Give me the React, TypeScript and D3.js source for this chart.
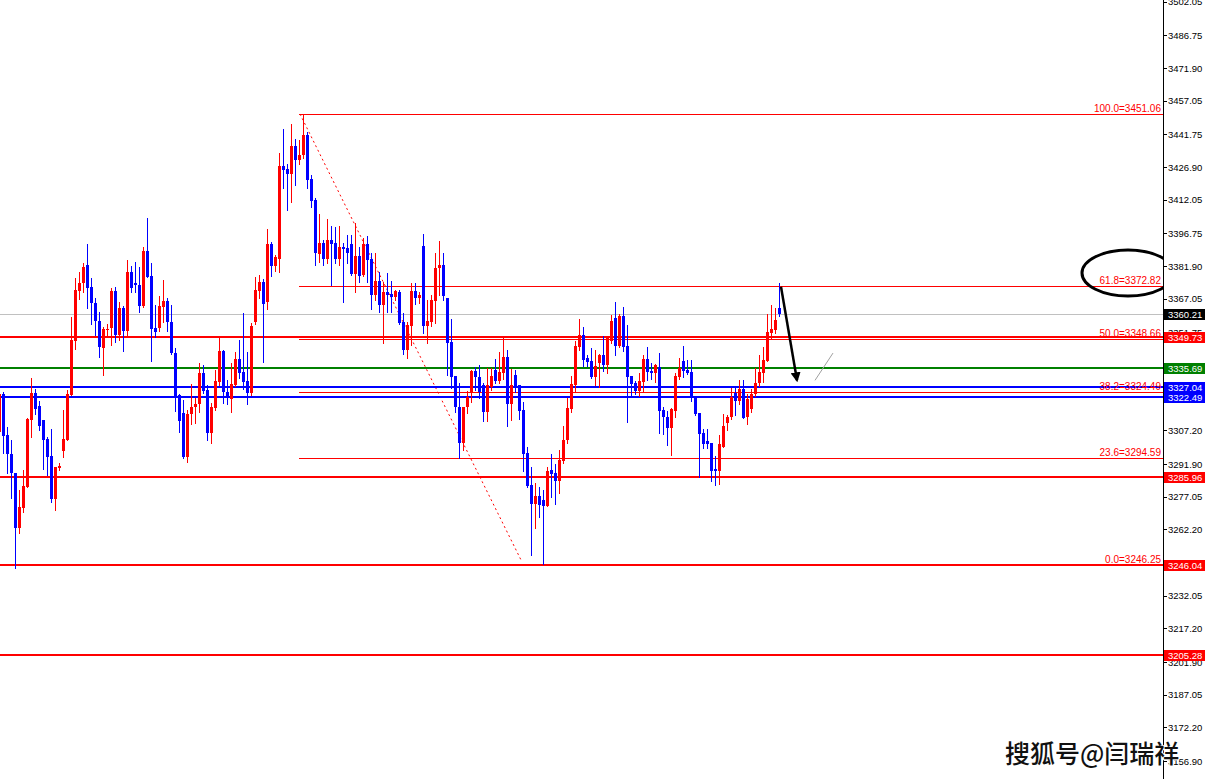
import React from "react";
import * as d3 from "d3";

const openP = [
3306.5,3323.8,3305.2,3296.5,3287.9,3262.9,3272.0,3281.5,3312.0,3324.3,
3318.4,3312.0,3303.4,3295.6,3276.1,3290.2,3297.9,3302.9,3323.4,3347.9,
3370.6,3374.3,3382.5,3372.5,3365.2,3357.0,3344.7,3352.9,3353.8,3370.6,
3350.6,3362.9,3352.4,3379.3,3374.3,3373.4,3363.8,3388.8,3377.4,3353.8,
3353.8,3363.4,3366.1,3356.5,3342.4,3323.4,3315.2,3295.2,3314.7,3317.9,
3319.3,3333.4,3325.6,3306.1,3317.4,3329.3,3343.4,3324.7,3321.5,3327.9,
3339.7,3333.8,3329.7,3324.3,3356.5,3370.6,3374.7,3365.6,3392.0,3382.0,
3385.2,3427.5,3426.1,3423.8,3436.5,3430.2,3432.4,3441.5,3421.5,3412.0,
3387.4,3392.4,3385.2,3393.8,3392.4,3385.2,3390.6,3390.2,3392.0,3378.4,
3386.5,3377.9,3392.0,3385.2,3368.8,3375.2,3364.3,3370.2,3369.3,3367.9,
3370.2,3356.5,3343.8,3354.7,3370.6,3367.5,3391.1,3354.7,3356.5,3366.1,
3381.1,3382.5,3367.5,3347.4,3332.0,3317.9,3301.5,3317.9,3324.3,3334.3,
3331.5,3327.9,3315.6,3327.0,3334.7,3329.7,3333.4,3340.6,3319.3,3332.5,
3327.9,3316.5,3297.0,3282.5,3273.8,3277.4,3275.6,3272.9,3289.3,3287.9,
3284.3,3293.4,3302.9,3317.0,3327.9,3345.2,3350.6,3340.2,3338.8,3331.5,
3337.9,3341.5,3337.0,3347.9,3358.4,3345.6,3359.3,3345.6,3332.0,3328.8,
3325.2,3329.3,3339.7,3334.3,3333.4,3336.1,3316.5,3313.4,3308.4,3316.1,
3331.5,3338.8,3334.7,3333.8,3322.5,3315.2,3306.1,3302.4,3301.5,3289.7,
3288.8,3299.7,3310.6,3313.4,3324.3,3320.6,3326.1,3313.4,3317.0,3323.8,
3328.8,3333.4,3338.8,3351.5,3352.9,3362.9
];
const closeP = [
3323.8,3304.7,3296.5,3287.9,3262.9,3272.5,3282.0,3312.5,3324.3,3317.0,
3309.3,3302.9,3295.2,3276.1,3290.6,3291.1,3303.4,3323.8,3348.4,3371.1,
3374.3,3381.5,3372.0,3365.2,3357.0,3345.2,3353.4,3353.4,3370.6,3350.6,
3362.9,3352.4,3379.3,3372.0,3373.4,3363.8,3388.8,3377.0,3353.4,3352.0,
3363.8,3366.1,3356.5,3342.4,3322.5,3311.5,3295.2,3314.7,3317.9,3319.3,
3333.4,3325.2,3306.1,3317.9,3329.7,3343.4,3324.7,3322.9,3328.4,3339.7,
3333.4,3329.3,3324.3,3354.7,3371.1,3374.7,3364.7,3392.0,3382.0,3386.1,
3427.5,3425.6,3423.8,3436.5,3430.2,3432.4,3441.5,3421.1,3411.5,3387.9,
3392.4,3385.2,3393.8,3392.0,3385.2,3390.6,3389.7,3387.9,3378.4,3386.5,
3377.4,3392.0,3384.7,3368.8,3375.2,3364.3,3370.2,3368.8,3367.9,3370.6,
3356.1,3343.8,3355.2,3370.6,3367.5,3368.8,3354.7,3357.0,3366.5,3381.1,
3382.5,3368.4,3347.0,3331.5,3317.9,3301.5,3317.9,3322.5,3334.3,3331.5,
3324.7,3315.6,3327.9,3332.0,3329.7,3333.8,3340.6,3319.3,3327.9,3327.0,
3316.1,3296.5,3282.0,3273.8,3277.4,3273.4,3272.9,3288.8,3287.4,3284.3,
3293.8,3302.9,3317.4,3328.4,3345.6,3350.6,3339.3,3338.4,3331.5,3336.6,
3341.5,3337.0,3349.7,3357.0,3345.6,3359.3,3345.2,3331.5,3328.4,3325.2,
3329.7,3339.7,3333.8,3333.4,3337.0,3316.1,3313.4,3308.4,3317.0,3332.0,
3335.6,3334.3,3333.4,3322.0,3314.7,3305.6,3301.1,3301.1,3288.8,3288.8,
3301.1,3309.3,3313.4,3322.5,3320.6,3326.1,3312.9,3321.5,3323.8,3328.8,
3333.8,3339.3,3352.0,3353.4,3357.5,3360.21
];
const highP = [
3325.6,3324.7,3308.8,3302.9,3287.9,3280.2,3289.3,3312.9,3331.1,3326.1,
3320.6,3312.0,3304.3,3307.9,3290.6,3292.4,3316.5,3325.6,3358.8,3376.5,
3379.3,3383.4,3392.0,3376.5,3367.5,3361.1,3354.3,3355.6,3372.0,3372.5,
3365.6,3363.8,3384.7,3382.0,3383.8,3381.5,3390.6,3403.8,3383.4,3364.3,
3368.4,3375.6,3367.5,3364.3,3344.7,3323.8,3321.1,3316.5,3328.4,3322.0,
3337.9,3337.0,3327.9,3319.7,3334.7,3349.3,3343.8,3330.2,3337.9,3342.9,
3348.4,3360.6,3342.9,3356.1,3377.0,3377.9,3376.1,3398.8,3392.9,3387.0,
3433.4,3444.2,3428.4,3446.5,3439.7,3439.3,3451.1,3442.9,3423.4,3412.9,
3405.6,3393.8,3403.4,3400.2,3399.7,3400.2,3392.4,3396.1,3396.1,3401.5,
3390.6,3394.7,3395.6,3387.9,3387.9,3379.3,3374.7,3378.8,3375.2,3371.1,
3371.1,3360.6,3356.5,3374.3,3374.3,3370.2,3396.5,3366.5,3368.8,3387.9,
3393.4,3387.9,3367.5,3357.9,3332.0,3328.8,3317.9,3325.2,3334.7,3336.1,
3337.0,3328.8,3335.6,3335.6,3339.7,3342.9,3349.7,3343.8,3335.2,3334.7,
3327.9,3320.2,3299.7,3290.6,3283.4,3281.5,3280.2,3290.6,3296.5,3292.0,
3298.4,3309.3,3322.0,3332.0,3347.9,3357.9,3354.3,3341.5,3344.7,3343.8,
3341.9,3350.1,3349.7,3359.7,3365.6,3360.2,3363.4,3355.2,3332.0,3329.7,
3333.4,3341.5,3345.2,3337.9,3337.5,3342.4,3317.9,3316.1,3317.4,3333.4,
3340.2,3345.6,3339.3,3339.3,3322.5,3315.2,3307.9,3307.9,3301.5,3295.6,
3305.2,3314.7,3314.3,3326.5,3326.5,3330.2,3330.2,3323.8,3326.1,3335.6,
3341.5,3345.2,3360.2,3364.3,3362.9,3374.3
];
const lowP = [
3302.9,3297.0,3287.9,3276.5,3244.9,3260.6,3270.2,3281.5,3304.3,3314.7,
3307.5,3289.7,3287.0,3274.7,3271.1,3289.3,3295.2,3302.9,3323.4,3344.3,
3367.0,3370.2,3362.9,3355.6,3350.6,3340.6,3332.5,3350.6,3346.1,3347.4,
3348.4,3343.4,3350.6,3370.2,3370.2,3361.1,3363.4,3377.0,3338.8,3349.7,
3352.4,3356.5,3352.4,3341.9,3316.1,3306.5,3294.7,3292.9,3310.2,3310.6,
3315.6,3324.3,3302.9,3301.5,3316.5,3327.9,3319.7,3319.3,3315.6,3327.4,
3331.1,3326.1,3319.3,3323.4,3355.6,3367.5,3338.4,3362.4,3377.4,3379.7,
3379.3,3417.4,3407.5,3411.1,3418.8,3428.4,3431.1,3417.4,3408.8,3382.5,
3383.8,3382.5,3383.4,3373.4,3383.4,3382.5,3365.6,3383.4,3377.9,3370.2,
3374.7,3377.4,3374.7,3362.4,3366.5,3361.1,3347.0,3361.1,3361.1,3366.5,
3355.6,3341.9,3340.1,3346.1,3364.7,3365.2,3351.5,3347.0,3354.7,3356.1,
3368.8,3366.5,3332.5,3326.5,3315.6,3294.7,3298.4,3315.2,3320.2,3325.6,
3322.0,3311.5,3311.5,3325.6,3328.8,3328.8,3330.6,3309.3,3312.0,3324.7,
3312.4,3288.8,3281.5,3250.6,3262.9,3267.9,3246.5,3272.9,3277.0,3273.8,
3278.8,3292.4,3301.5,3315.6,3324.7,3343.8,3336.6,3336.6,3331.1,3327.9,
3327.0,3334.3,3333.4,3347.0,3341.5,3345.2,3343.4,3311.1,3322.5,3323.8,
3322.9,3325.2,3330.2,3330.6,3329.3,3306.1,3305.6,3300.6,3296.1,3313.4,
3330.6,3331.5,3332.9,3320.6,3314.3,3286.1,3299.3,3299.3,3284.3,3282.5,
3282.9,3299.7,3307.5,3312.4,3314.3,3319.3,3312.9,3310.2,3315.6,3322.9,
3327.4,3329.3,3338.8,3348.8,3351.5,3359.3
];

const tickValues = [3502.05,3486.75,3471.90,3457.05,3441.75,3426.90,3412.05,3396.75,3381.90,3367.05,3351.75,3336.90,3322.05,3307.20,3291.90,3277.05,3262.20,3246.90,3232.05,3217.20,3201.90,3187.05,3172.20,3156.90];

const levelValues = [3349.73, 3335.69, 3327.04, 3322.49, 3285.96, 3246.04, 3205.28];
const levelColors = ["#ff0000", "#008000", "#0000ff", "#0000ff", "#ff0000", "#ff0000", "#ff0000"];
const currentPrice = 3360.21;

const fibHigh = 3451.06;
const fibLow = 3246.25;
const fibPcts = ["100.0", "61.8", "50.0", "38.2", "23.6", "0.0"];
const fibValues = [3451.06, 3372.82, 3348.66, 3324.49, 3294.59, 3246.25];
const fibStartIdx = 75;
const fibEndIdx = 130.7;

const arrowFrom = { i: 195.5, p: 3372.5 };
const arrowTo = { i: 199.5, p: 3330.0 };
const thinFrom = { i: 204, p: 3330.0 };
const thinTo = { i: 208.5, p: 3342.4 };

const watermark = "搜狐号@闫瑞祥";

const W = 1205;
const H = 779;
const AXIS_X = 1163;

export default function App() {
  const x = d3.scaleLinear().domain([0, 195]).range([-1, 779]);
  const y = d3.scaleLinear().domain([3246.04, 3451.06]).range([565.04, 114]);
  const font = "'Liberation Sans', Arial, sans-serif";

  const candles = openP.map((o, i) => {
    const c = closeP[i];
    const h = highP[i];
    const l = lowP[i];
    const up = c >= o;
    const col = up ? "#ff0000" : "#0000ff";
    const cx = Math.round(x(i));
    const yTop = Math.round(y(Math.max(o, c)));
    const yBot = Math.round(y(Math.min(o, c)));
    return (
      <g key={i}>
        <line x1={cx + 0.5} x2={cx + 0.5} y1={Math.round(y(h))} y2={Math.round(y(l)) + 1} stroke={col} strokeWidth={1} />
        <rect x={cx - 1} y={yTop} width={3} height={Math.max(1, yBot - yTop)} fill={col} />
      </g>
    );
  });

  const fibX0 = Math.round(x(fibStartIdx));
  const boxYs = [currentPrice, ...levelValues].map((v) => y(v));
  const visibleTicks = tickValues.filter((v) => boxYs.every((b) => Math.abs(y(v) - b) > 4));

  return (
    <svg width={W} height={H} style={{ position: "fixed", left: 0, top: 0, background: "#fff" }} xmlns="http://www.w3.org/2000/svg">
      <rect x={0} y={0} width={W} height={H} fill="#ffffff" />
      <line x1={0} x2={AXIS_X} y1={Math.round(y(currentPrice)) + 0.5} y2={Math.round(y(currentPrice)) + 0.5} stroke="#c0c0c0" strokeWidth={1} />
      {fibValues.map((v, k) => (
        <line key={"f" + k} x1={fibX0} x2={AXIS_X} y1={Math.round(y(v)) + 0.5} y2={Math.round(y(v)) + 0.5} stroke="#ff0000" strokeWidth={1} />
      ))}
      <line x1={x(fibStartIdx) + 1} y1={y(fibHigh)} x2={x(fibEndIdx)} y2={y(fibLow) - 3} stroke="#ff0000" strokeWidth={1} strokeDasharray="2,3" />
      {levelValues.map((v, k) => (
        <line key={"l" + k} x1={0} x2={AXIS_X} y1={Math.round(y(v))} y2={Math.round(y(v))} stroke={levelColors[k]} strokeWidth={2} />
      ))}
      <g shapeRendering="crispEdges">{candles}</g>
      {fibValues.map((v, k) => (
        <text key={"ft" + k} x={AXIS_X - 2} y={Math.round(y(v)) - 2} textAnchor="end" fontFamily={font} fontSize={10} fill="#ff0000">
          {fibPcts[k] + "=" + v.toFixed(2)}
        </text>
      ))}
      <defs>
        <marker id="ah" viewBox="0 0 10 10" refX="8" refY="5" markerWidth="4" markerHeight="4" orient="auto">
          <path d="M0,0 L10,5 L0,10 z" fill="#000" />
        </marker>
      </defs>
      <line x1={x(arrowFrom.i)} y1={y(arrowFrom.p)} x2={x(arrowTo.i)} y2={y(arrowTo.p)} stroke="#000" strokeWidth={2.5} markerEnd="url(#ah)" />
      <line x1={x(thinFrom.i)} y1={y(thinFrom.p)} x2={x(thinTo.i)} y2={y(thinTo.p)} stroke="#a0a0a0" strokeWidth={1} />
      <ellipse cx={1128} cy={Math.round(y(fibValues[1])) - 13} rx={46} ry={23} fill="none" stroke="#000" strokeWidth={3} />
      <rect x={AXIS_X + 1} y={0} width={W - AXIS_X - 1} height={H} fill="#ffffff" />
      <line x1={AXIS_X + 0.5} x2={AXIS_X + 0.5} y1={0} y2={H} stroke="#000" strokeWidth={1} />
      {tickValues.map((v, k) => (
        <line key={"tk" + k} x1={AXIS_X} x2={AXIS_X + 4} y1={Math.round(y(v)) + 0.5} y2={Math.round(y(v)) + 0.5} stroke="#000" strokeWidth={1} />
      ))}
      {visibleTicks.map((v, k) => (
        <text key={"t" + k} x={1168} y={y(v) + 3.5} fontFamily={font} fontSize={9.5} fill="#000">{v.toFixed(2)}</text>
      ))}
      <rect x={AXIS_X + 1} y={Math.round(y(currentPrice)) - 5} width={W - AXIS_X - 1} height={11} fill="#000" />
      <text x={1168} y={y(currentPrice) + 4} fontFamily={font} fontSize={9.5} fill="#fff">{currentPrice.toFixed(2)}</text>
      {levelValues.map((v, k) => (
        <g key={"lb" + k}>
          <rect x={AXIS_X + 1} y={Math.round(y(v)) - 5} width={W - AXIS_X - 1} height={11} fill={levelColors[k]} />
          <text x={1168} y={y(v) + 4} fontFamily={font} fontSize={9.5} fill="#fff">{v.toFixed(2)}</text>
        </g>
      ))}
      <text x={1005} y={763} fontFamily="'Noto Sans CJK SC', sans-serif" fontSize={25} fontWeight={500} fill="#111" stroke="#fff" strokeWidth={2} paintOrder="stroke">
        {watermark}
      </text>
    </svg>
  );
}
